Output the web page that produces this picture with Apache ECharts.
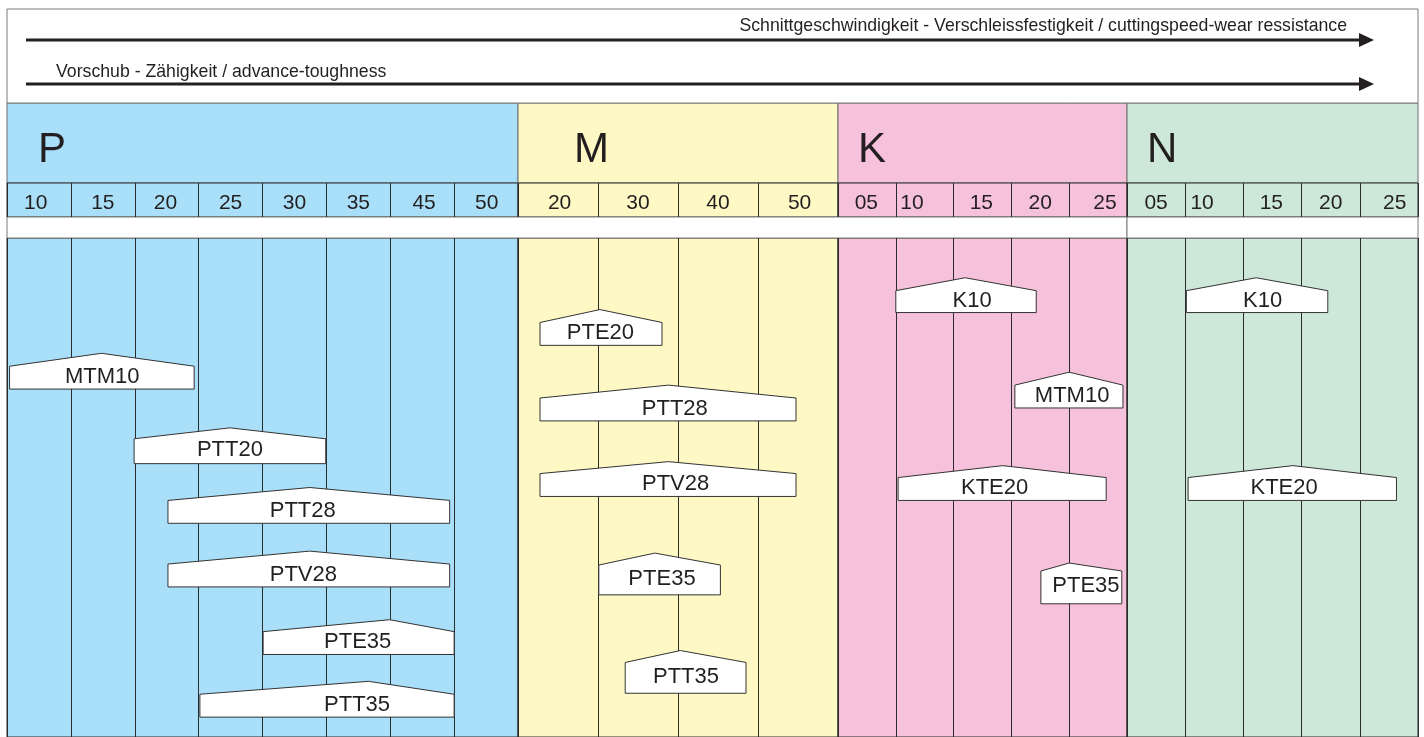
<!DOCTYPE html>
<html>
<head>
<meta charset="utf-8">
<title>Sortenübersicht</title>
<script src="https://cdn.jsdelivr.net/npm/echarts@6/dist/echarts.min.js"></script>
<style>
html, body { margin: 0; padding: 0; background: #fff; }
#chart { width: 1424px; height: 737px; }
</style>
</head>
<body>
<div id="chart"></div>
<script>
// application groups and their column labels
var groups = ["P", "M", "K", "N"];
var groupColors = ["#a9dff8", "#fef9c4", "#f6c1da", "#cde7d8"];
var columnLabels = [
    ["10", "15", "20", "25", "30", "35", "45", "50"],
    ["20", "30", "40", "50"],
    ["05", "10", "15", "20", "25"],
    ["05", "10", "15", "20", "25"]
];
// where each column label sits, in columns of its group
var columnLabelAt = [
    [0.45, 1.5, 2.48, 3.5, 4.5, 5.5, 6.53, 7.51],
    [0.52, 1.5, 2.5, 3.52],
    [0.49, 1.28, 2.48, 3.5, 4.62],
    [0.5, 1.29, 2.48, 3.5, 4.6]
];

// grades: range start/end, peak and label position in columns of their group,
// vertical level as top / shoulder / bottom
var gradeNames = ["MTM10", "PTT20", "PTT28", "PTV28", "PTE35", "PTT35",
                  "PTE20", "PTT28", "PTV28", "PTE35", "PTT35",
                  "K10", "MTM10", "KTE20", "PTE35",
                  "K10", "KTE20"];
var gradeGroup = [0, 0, 0, 0, 0, 0, 1, 1, 1, 1, 1, 2, 2, 2, 2, 3, 3];
var gradeFrom = [0.04, 1.99, 2.52, 2.52, 4.01, 3.02, 0.275, 0.275, 0.275, 1.01, 1.34, 1.0, 3.06, 1.04, 3.51, 1.02, 1.05];
var gradeTo = [2.93, 4.99, 6.93, 6.93, 7.0, 7.0, 1.8, 3.475, 3.475, 2.53, 2.85, 3.43, 4.93, 4.64, 4.91, 3.45, 4.63];
var gradePeak = [1.48, 3.49, 4.74, 4.74, 5.99, 5.66, 1.025, 1.88, 1.88, 1.71, 2.03, 2.2, 4.0, 2.85, 4.0, 2.22, 2.85];
var gradeText = [1.49, 3.49, 4.63, 4.64, 5.49, 5.48, 1.03, 1.96, 1.97, 1.8, 2.1, 2.32, 4.05, 2.71, 4.29, 2.33, 2.7];
var gradeTop = [116, 191, 251, 315, 384, 446, 72, 148, 225, 317, 415, 40, 135, 229, 327, 40, 229];
var gradeShoulder = [129, 202, 264, 328, 396, 459, 85, 161, 237, 329, 427, 53, 148, 241, 335, 53, 241];
var gradeBottom = [152, 227, 287, 351, 419, 482, 108, 184, 260, 359, 458, 75, 171, 264, 368, 75, 264];

var FONT = "'Liberation Sans', Arial, Helvetica, sans-serif";
var INK = "#231f20";
var secLeft = [7, 518, 838, 1127];
var secWidth = [511, 320, 289, 291];

var grids = [], xAxes = [], yAxes = [], series = [];

function addGrid(top, height, s, bg, border, lines) {
    var n = columnLabels[s].length;
    grids.push({
        show: true, left: secLeft[s], width: secWidth[s], top: top, height: height,
        backgroundColor: bg, borderColor: border, borderWidth: 1
    });
    var gi = grids.length - 1;
    xAxes.push({
        type: "value", gridIndex: gi, min: 0, max: n, interval: 1,
        axisLine: { show: false }, axisTick: { show: false }, axisLabel: { show: false },
        splitLine: { show: lines, lineStyle: { color: "#2a2a2a", width: 1 } }
    });
    return gi;
}

groups.forEach(function (g, s) {
    // header band
    var h = addGrid(103, 80, s, groupColors[s], "#6e6e6e", false);
    yAxes.push({ type: "value", gridIndex: h, min: 0, max: 1, show: false });

    // column labels
    var l = addGrid(183, 34, s, groupColors[s], "#2a2a2a", true);
    yAxes.push({ type: "value", gridIndex: l, min: 0, max: 1, show: false });
    var labels = columnLabels[s];
    series.push({
        type: "custom", xAxisIndex: l, yAxisIndex: l, silent: true,
        data: columnLabelAt[s].map(function (x) { return [x, 0.42]; }),
        renderItem: function (params, api) {
            var p = api.coord([api.value(0), api.value(1)]);
            return { type: "text", x: p[0], y: p[1], style: {
                text: labels[params.dataIndex], fill: INK, fontSize: 21, fontFamily: FONT,
                align: "center", verticalAlign: "middle" } };
        }
    });

    // body with grade shapes
    var b = addGrid(238, 502, s, groupColors[s], "#2a2a2a", true);
    yAxes.push({ type: "value", gridIndex: b, min: 0, max: 502, inverse: true, show: false });
    var idx = [];
    gradeNames.forEach(function (nm, k) { if (gradeGroup[k] === s) idx.push(k); });
    series.push({
        type: "custom", xAxisIndex: b, yAxisIndex: b, clip: false, silent: true,
        data: idx.map(function (k) {
            return [gradeFrom[k], gradeTo[k], gradePeak[k], gradeText[k], gradeTop[k], gradeShoulder[k], gradeBottom[k]];
        }),
        renderItem: function (params, api) {
            var from = api.value(0), to = api.value(1), peak = api.value(2), tx = api.value(3);
            var top = api.value(4), sh = api.value(5), bot = api.value(6);
            var pts = [
                api.coord([from, bot]), api.coord([from, sh]), api.coord([peak, top]),
                api.coord([to, sh]), api.coord([to, bot])
            ];
            var t = api.coord([tx, (sh + bot) / 2]);
            return {
                type: "group",
                children: [
                    { type: "polygon", shape: { points: pts }, style: { fill: "#fff", stroke: "#333", lineWidth: 1 } },
                    { type: "text", x: t[0], y: t[1] - 1, style: {
                        text: gradeNames[idx[params.dataIndex]], fill: INK, fontSize: 22, fontFamily: FONT,
                        align: "center", verticalAlign: "middle" } }
                ]
            };
        }
    });
});

var letterX = [38, 574, 858, 1147];

var graphics = [
    { type: "rect", shape: { x: 7, y: 9, width: 1411, height: 94 }, style: { fill: "#fff", stroke: "#7a7a7a", lineWidth: 1 } },
    { type: "line", shape: { x1: 26, y1: 40, x2: 1362, y2: 40 }, style: { stroke: INK, lineWidth: 3 } },
    { type: "polygon", shape: { points: [[1359, 33], [1374, 40], [1359, 47]] }, style: { fill: INK } },
    { type: "line", shape: { x1: 26, y1: 84, x2: 1362, y2: 84 }, style: { stroke: INK, lineWidth: 3 } },
    { type: "polygon", shape: { points: [[1359, 77], [1374, 84], [1359, 91]] }, style: { fill: INK } },
    { type: "text", x: 1347, y: 26, style: { text: "Schnittgeschwindigkeit - Verschleissfestigkeit / cuttingspeed-wear ressistance",
        fill: INK, fontSize: 17.7, fontFamily: FONT, align: "right", verticalAlign: "middle" } },
    { type: "text", x: 56, y: 72, style: { text: "Vorschub - Zähigkeit / advance-toughness",
        fill: INK, fontSize: 17.7, fontFamily: FONT, align: "left", verticalAlign: "middle" } },
    { type: "rect", shape: { x: 7, y: 217, width: 1120, height: 21 }, style: { fill: "#fff", stroke: "#7a7a7a", lineWidth: 1 } },
    { type: "rect", shape: { x: 1127, y: 217, width: 291, height: 21 }, style: { fill: "#fff", stroke: "#7a7a7a", lineWidth: 1 } }
];
groups.forEach(function (g, s) {
    graphics.push({ type: "text", x: letterX[s], y: 150, z: 10, style: {
        text: g, fill: INK, fontSize: 42, fontFamily: FONT, align: "left", verticalAlign: "middle" } });
});

var myChart = echarts.init(document.getElementById("chart"));
myChart.setOption({
    animation: false,
    backgroundColor: "#fff",
    grid: grids,
    xAxis: xAxes,
    yAxis: yAxes,
    series: series,
    graphic: graphics
});
window.addEventListener("resize", function () {
    myChart.resize();
});
</script>
</body>
</html>
